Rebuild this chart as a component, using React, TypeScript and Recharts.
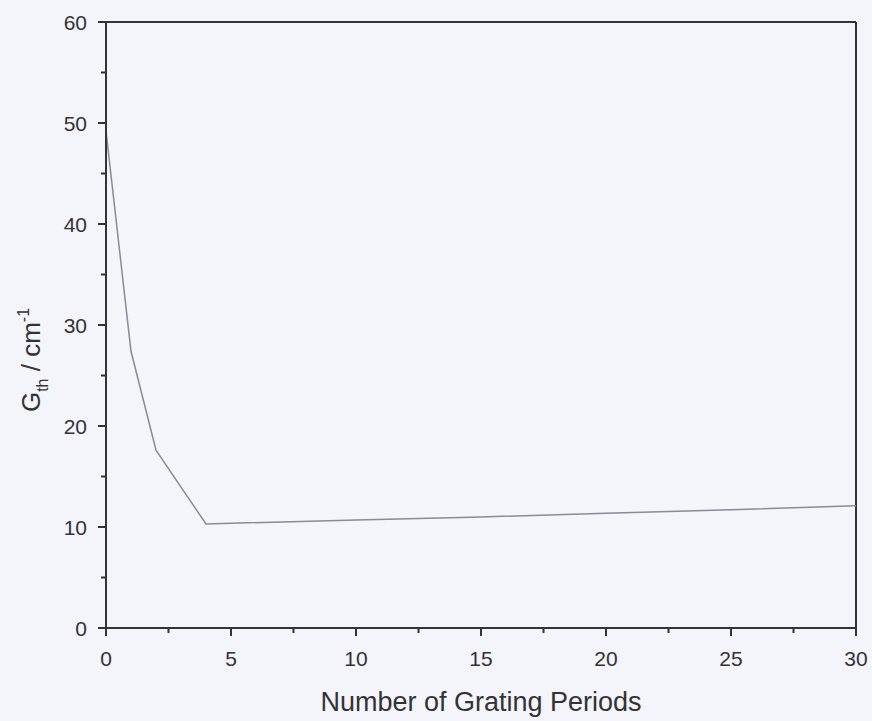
import { LineChart, Line, XAxis, YAxis, ReferenceLine } from 'recharts';

const periods = [0, 1, 2, 4, 10, 15, 20, 25, 30];
const gth = [49.2, 27.4, 17.6, 10.3, 10.7, 11.0, 11.35, 11.7, 12.1];

const xTicks = [0, 2.5, 5, 7.5, 10, 12.5, 15, 17.5, 20, 22.5, 25, 27.5, 30];
const yTicks = [0, 5, 10, 15, 20, 25, 30, 35, 40, 45, 50, 55, 60];

const data = periods.map((p, i) => ({ n: p, g: gth[i] }));

const FONT = '"Liberation Sans", Arial, sans-serif';
const AXIS = '#333';

const XTick = ({ x, y, payload }: any) => {
  const major = payload.value % 5 === 0;
  return (
    <g>
      <line x1={x} y1={y} x2={x} y2={y + (major ? 8 : 5)} stroke={AXIS} strokeWidth={2} />
      {major && (
        <text x={x} y={y + 38} textAnchor="middle" fontSize={21} fill="#333" fontFamily={FONT}>
          {payload.value}
        </text>
      )}
    </g>
  );
};

const YTick = ({ x, y, payload }: any) => {
  const major = payload.value % 10 === 0;
  return (
    <g>
      <line x1={x} y1={y} x2={x - (major ? 8 : 5)} y2={y} stroke={AXIS} strokeWidth={2} />
      {major && (
        <text x={x - 19} y={y} dy="0.36em" textAnchor="end" fontSize={21} fill="#333" fontFamily={FONT}>
          {payload.value}
        </text>
      )}
    </g>
  );
};

const YTitle = ({ viewBox }: any) => {
  const cy = viewBox.y + viewBox.height / 2 + 35;
  const cx = 40;
  return (
    <text
      x={cx}
      y={cy}
      transform={`rotate(-90, ${cx}, ${cy})`}
      textAnchor="middle"
      fontSize={26}
      fill="#333"
      fontFamily={FONT}
    >
      G<tspan fontSize={16} dy={8}>th</tspan>
      <tspan dy={-8}> / cm</tspan>
      <tspan fontSize={16} dy={-11}>-1</tspan>
    </text>
  );
};

const XTitle = ({ viewBox }: any) => (
  <text
    x={viewBox.x + viewBox.width / 2}
    y={viewBox.y + 83}
    textAnchor="middle"
    fontSize={27}
    fill="#333"
    fontFamily={FONT}
  >
    Number of Grating Periods
  </text>
);

export default function App() {
  return (
    <div style={{ width: 872, height: 721, background: '#f4f4fb' }}>
      <style>{`body{margin:0}`}</style>
      <LineChart
        width={872}
        height={721}
        data={data}
        margin={{ top: 22, right: 16, bottom: 0, left: 0 }}
      >
        <XAxis
          dataKey="n"
          type="number"
          domain={[0, 30]}
          ticks={xTicks}
          interval={0}
          height={93}
          tickSize={0}
          tickMargin={0}
          tickLine={false}
          tick={<XTick />}
          axisLine={{ stroke: AXIS, strokeWidth: 2 }}
          label={<XTitle />}
        />
        <YAxis
          type="number"
          domain={[0, 60]}
          ticks={yTicks}
          interval={0}
          width={106}
          tickSize={0}
          tickMargin={0}
          tickLine={false}
          tick={<YTick />}
          axisLine={{ stroke: AXIS, strokeWidth: 2 }}
          label={<YTitle />}
        />
        <ReferenceLine y={60} stroke={AXIS} strokeWidth={2} />
        <ReferenceLine x={30} stroke={AXIS} strokeWidth={2} />
        <Line
          type="linear"
          dataKey="g"
          stroke="#8a8a96"
          strokeWidth={1.5}
          dot={false}
          isAnimationActive={false}
        />
      </LineChart>
    </div>
  );
}
